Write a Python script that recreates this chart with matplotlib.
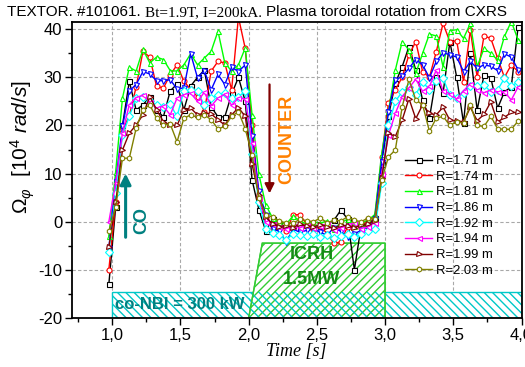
import numpy as np
import matplotlib
matplotlib.use("Agg")
import matplotlib.pyplot as plt
from matplotlib.patches import Rectangle, Polygon
from matplotlib.ticker import MultipleLocator, FuncFormatter

plt.rcParams["font.family"] = ["Liberation Sans", "DejaVu Sans"]
plt.rcParams["mathtext.fontset"] = "custom"
plt.rcParams["mathtext.rm"] = "Liberation Sans"
plt.rcParams["mathtext.it"] = "Liberation Sans:italic"
plt.rcParams["hatch.linewidth"] = 1.0

# CXRS sampling times [s]
time = np.round(np.arange(61) * 0.05 + 0.975, 3)

r171 = [-13, 3, 20, 29.2, 23.2, 24.3, 25.9, 23.2, 21.8, 27.2, 28.6, 23.2, 28.2, 30, 31.5, 23.9,
        21.8, 21.8, 26.5, 30, 25, 8.7, 2.5, -1.9, 0.5, -0.5, -1.2, -0.8, -1.0, -0.7, -1.1,
        -0.9, -0.5, 0.3, 2.4, 0.6, -10, -0.8, -0.6, 0.8, 12, 22, 28.8, 32.2, 36.4, 31.5,
        25.3, 21.5, 30.1, 26.7, 37.4, 30, 20.5, 35, 23.2, 30.5, 29.9, 23.6, 27, 28, 40.5]
r174 = [-10, 4, 19, 22, 28, 35.4, 34.2, 28.1, 27.8, 30.5, 32.6, 29.2, 27.5, 26, 22.9, 31.3,
        33.3, 33, 27.4, 42.5, 36, 20, 5, 0.5, -1.2, -0.5, -2, 1.4, 1.5, -0.5, -1.5,
        -0.8, -2.5, -4.5, -4.2, -1, -0.5, -1.2, 0.6, 1, 13.5, 24.7, 27.4, 30, 34.7, 37.4,
        31.2, 30, 35.3, 41.2, 37.4, 37.6, 29.1, 39.8, 30, 38.6, 38.1, 34, 30, 32.6, 31.2]
r181 = [-3, 10.4, 25.7, 32.1, 31.3, 35.8, 33, 34.2, 33.7, 31.4, 31.3, 32.6, 34.9, 32.6, 34, 35.4,
        39.6, 33, 31.3, 32.6, 36.1, 22.2, 9.9, 3.5, 0.8, 0, -0.5, 1.2, 0.2, -0.5, 0,
        -0.3, 0.2, -1.5, -0.2, 0.5, -0.8, -0.3, 0.3, 1.5, 14, 23, 31.5, 37.4, 35.7, 30.8,
        35, 39, 38.6, 32.2, 39.7, 39.9, 38.1, 41.2, 32.2, 36, 35, 33.6, 38.5, 41.6, 37.8]
r186 = [-5.5, 8.3, 19.8, 27.2, 28.5, 31.2, 30.7, 29.3, 29.3, 29.5, 27.6, 27.8, 34.9, 29.9, 31.4, 27.4,
        30.6, 28.5, 32.1, 31.2, 32.6, 17.8, 6.4, 1.5, -1.5, -2.0, -4.2, -1.5, -2.2, -1.8, -1.5,
        -2.2, -2.8, -1.2, -2.0, -3.2, -2.5, -1.8, -1.0, 0.5, 12.5, 22.9, 29.5, 30.2, 31.9, 33.7,
        32.6, 29.9, 33.3, 35.1, 34.7, 34.2, 31.2, 33.3, 31.9, 32.6, 32.3, 31.4, 34.9, 34.2, 31.6]
r192 = [-6.3, 6, 18, 21.9, 25.7, 26, 25, 24.2, 23.8, 24.4, 21.9, 27.2, 27.4, 27.1, 24.2, 25.7,
        26.4, 26.7, 25.7, 26, 27.1, 14, 4, -1.5, -2.4, -2.8, -3.8, -2.5, -2.8, -3.0, -2.6,
        -3.2, -2.7, -3.4, -3.0, -2.5, -3.2, -2.6, -2.0, -1.5, 8, 20, 25, 27, 28, 26.4,
        29.1, 27.4, 29.3, 29.8, 26.3, 25.8, 26.7, 28.1, 28.1, 28.4, 27, 27.4, 29.8, 28.1, 29.1]
r194 = [0, 8, 18.5, 24.3, 25.8, 26.3, 24.9, 23.6, 24, 22.2, 25.7, 26.4, 26.7, 25, 26.9, 24,
        25.7, 26.5, 24.2, 25.7, 25.5, 16.4, 5, 0, -0.5, -1, -1.5, -0.8, -1.2, -0.6, -1.3,
        -0.8, -0.5, -1.8, -1.2, -0.6, -0.2, -1.5, -1.0, -0.2, 10, 18, 22.5, 26, 27.8, 29.6,
        27.1, 28.1, 31.5, 27.2, 26.6, 25.5, 27.2, 28.7, 27.4, 26.8, 27.4, 27, 27, 25.3, 28]
r199 = [-5.3, 4, 14.9, 18.4, 20.1, 22.2, 26, 23.3, 20.8, 20.1, 20, 23.3, 23.6, 22.2, 22.6, 22.4,
        21.2, 20.1, 22.2, 23.7, 21.9, 11.9, 5.6, 1, -0.5, -1.0, -0.8, -1.2, -0.5, -0.9, -1.1,
        -0.6, -1.0, -1.4, -0.7, -0.9, -1.3, -0.6, -0.4, 0.2, 9, 18.4, 17.7, 21.1, 25.6, 21.4,
        24.3, 22.5, 22.2, 23.8, 21.1, 21, 20.7, 23.8, 21, 22.3, 24.9, 20.7, 21.7, 22.7, 22.7]
r203 = [-2, 3, 13.2, 13.2, 19.4, 23.3, 24.3, 21.5, 20.1, 20.3, 16.6, 21.5, 22.2, 21.7, 22.2, 21.2,
        19.3, 19.8, 21.9, 22.9, 19.3, 13.9, 4.9, 1.4, 1.0, 0.2, -0.3, -0.3, 0.5, 0.2, 0,
        0.8, -0.2, 0.3, 0.2, 1.0, 0.3, 0, 0.8, 0.5, 8.7, 13.5, 14.9, 23.8, 29.6, 25.3,
        24.3, 18.8, 21.5, 21.9, 20, 20.8, 20.5, 24.3, 20, 19.8, 21.9, 19.3, 19.2, 19.2, 20.9]

labels = ["R=1.71 m", "R=1.74 m", "R=1.81 m", "R=1.86 m",
          "R=1.92 m", "R=1.94 m", "R=1.99 m", "R=2.03 m"]
series = [r171, r174, r181, r186, r192, r194, r199, r203]
colors = ["#000000", "#FF0000", "#00FF00", "#0000FF",
          "#00FFFF", "#FF00FF", "#800000", "#808000"]
markers = ["s", "o", "^", "v", "D", "<", ">", "h"]

# heating phases
nbi_start, nbi_end, nbi_top = 1.0, 4.0, -14.6
icrh_start, icrh_flat, icrh_end, icrh_top = 2.0, 2.1, 3.0, -4.45

fig = plt.figure(figsize=(5.25, 3.67), dpi=100)
ax = fig.add_axes([72 / 525, 1 - 318 / 367, 449.5 / 525, 296 / 367])
ymin, ymax = -20, 41.5
ax.set_xlim(0.705, 4.0)
ax.set_ylim(ymin, ymax)

ax.grid(True, which="major", color="#a8a8a8", linestyle=(0, (3, 2)), linewidth=0.8)
ax.set_axisbelow(True)

# co-NBI block and ICRH trapezoid (white-filled so the grid is hidden beneath them)
nbi_hatch = "\\\\\\\\"
nbi_col = "#00C8C8"
ax.add_patch(Rectangle((nbi_start, ymin), nbi_end - nbi_start, nbi_top - ymin,
                       facecolor="white", edgecolor=nbi_col, hatch=nbi_hatch, lw=1.0, zorder=1.2))
icrh_col = "#33CC33"
ax.add_patch(Polygon([(icrh_start, ymin), (icrh_flat, icrh_top), (icrh_end, icrh_top), (icrh_end, ymin)],
                     closed=True, facecolor="white", edgecolor=icrh_col, hatch="////", lw=1.0, zorder=1.3))
ax.add_patch(Rectangle((icrh_start, ymin), icrh_end - icrh_start, nbi_top - ymin,
                       facecolor="none", edgecolor=nbi_col, hatch=nbi_hatch, lw=0, zorder=1.4))
ax.plot([icrh_start, icrh_flat, icrh_end, icrh_end], [ymin, icrh_top, icrh_top, ymin],
        color=icrh_col, lw=1.0, zorder=1.5)

for vals, lab, c, m in zip(series, labels, colors, markers):
    ax.plot(time, vals, color=c, marker=m, ms=3.6, mfc="white", mec=c, mew=0.8,
            lw=1.0, label=lab, zorder=2)

# annotations
ax.annotate("", xy=(1.098, 10.6), xytext=(1.098, -3.8),
            arrowprops=dict(arrowstyle="-|>", color="#008080", lw=2.2, mutation_scale=16), zorder=3)
ax.text(1.215, 0.35, "CO", rotation=90, color="#008080", fontsize=13, fontweight="bold",
        ha="center", va="center", zorder=3)
ax.annotate("", xy=(2.153, 5.3), xytext=(2.153, 29.1),
            arrowprops=dict(arrowstyle="-|>", color="#800000", lw=1.6, mutation_scale=14), zorder=3)
ax.text(2.282, 17.2, "COUNTER", rotation=90, color="#FF8000", fontsize=13, fontweight="bold",
        ha="center", va="center", zorder=3)
ax.text(2.46, -6.9, "ICRH", color="#158A15", fontsize=13, fontweight="bold",
        ha="center", va="center", zorder=3)
ax.text(2.46, -12.1, "1.5MW", color="#158A15", fontsize=13, fontweight="bold",
        ha="center", va="center", zorder=3)
ax.text(1.02, -17.2, "co-NBI = 300 kW", color="#008080", fontsize=12, fontweight="bold",
        ha="left", va="center", zorder=3)

# axes styling
ax.xaxis.set_major_locator(MultipleLocator(0.5))
ax.xaxis.set_minor_locator(MultipleLocator(0.25))
ax.yaxis.set_major_locator(MultipleLocator(10))
ax.yaxis.set_minor_locator(MultipleLocator(5))
ax.xaxis.set_major_formatter(FuncFormatter(lambda v, p: f"{v:.1f}".replace(".", ",")))
ax.yaxis.set_major_formatter(FuncFormatter(lambda v, p: f"{int(round(v))}"))
ax.tick_params(which="major", direction="out", length=5, width=1.0, labelsize=12, pad=2)
ax.tick_params(which="minor", direction="out", length=3, width=1.0)
for s in ax.spines.values():
    s.set_linewidth(1.3)

ax.set_xlabel("Time [s]", family="Liberation Serif", style="italic", fontsize=13, labelpad=0)
ax.set_ylabel(r"$\Omega_{\varphi}$  $\mathit{[10^4\ rad/s]}$", fontsize=15)
ax.yaxis.set_label_coords(-0.078, 0.578)

leg = ax.legend(loc="upper left", bbox_to_anchor=(405 / 525, 1 - 155 / 367),
                bbox_transform=fig.transFigure, frameon=False, fontsize=9.4,
                handlelength=2.1, handletextpad=0.3, labelspacing=0.27,
                borderpad=0, borderaxespad=0)

# title assembled from sans and serif pieces
renderer = fig.canvas.get_renderer()
x = 7 / 525
ybase = 1 - 15.7 / 367
pieces = [("TEXTOR. #101061. ", "Liberation Sans"),
          ("Bt=1.9T, I=200kA. ", "Liberation Serif"),
          ("Plasma toroidal rotation from CXRS", "Liberation Sans")]
for txt, fam in pieces:
    t = fig.text(x, ybase, txt, family=fam, fontsize=11, va="baseline", ha="left")
    bb = t.get_window_extent(renderer)
    x += bb.width / fig.bbox.width

fig.savefig("out.png", dpi=100)
